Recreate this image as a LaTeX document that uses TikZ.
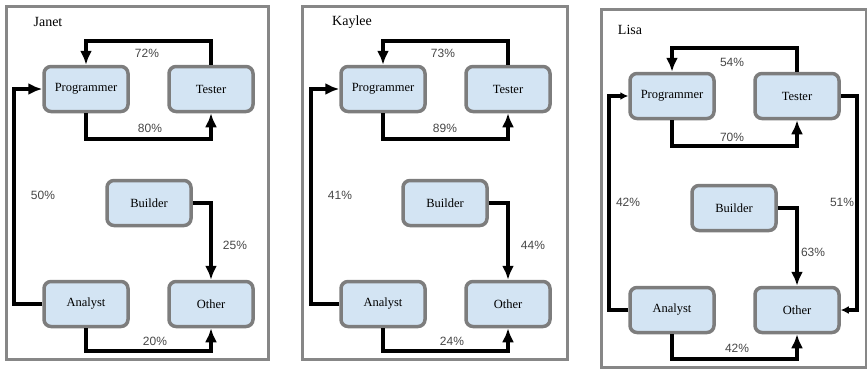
\documentclass[tikz,border=0pt]{standalone}
\usepackage{fontspec}
\setmainfont{Liberation Serif}
\newfontfamily\labfont{Liberation Sans}
\usetikzlibrary{arrows.meta}
\definecolor{boxfill}{RGB}{211,228,243}
\definecolor{boxline}{RGB}{125,125,125}
\definecolor{framecol}{RGB}{135,135,135}
\definecolor{labcol}{RGB}{70,70,70}
\tikzset{
  role/.style={draw=boxline, line width=3.5pt, fill=boxfill, rounded corners=7pt,
    minimum width=84pt, minimum height=45pt, inner sep=0pt,
    font=\fontsize{12.5}{14}\selectfont},
  flow/.style={draw=black, line width=4pt, -{Latex[length=14pt,width=12pt]}},
  flowsmall/.style={draw=black, line width=4pt, -{Latex[length=8pt,width=8pt]}},
  pct/.style={font=\labfont\fontsize{12}{14}\selectfont, text=labcol, inner sep=0pt},
  who/.style={font=\fontsize{14}{16}\selectfont, inner sep=0pt},
  frame/.style={draw=framecol, line width=3pt}
}
\begin{document}
\begin{tikzpicture}[x=1pt,y=-1pt]
\useasboundingbox (0,0) rectangle (867,370);
% ---------------- Janet ----------------
\draw[frame] (6,6) rectangle (268,359);
\node[who] (jname) at (48,22) {Janet};
\node[role] (jP) at (86,89) {Programmer};
\node[role] (jT) at (211,89) {Tester};
\node[role] (jB) at (149,203) {Builder};
\node[role] (jA) at (86,304) {Analyst};
\node[role] (jO) at (211,304) {Other};
\draw[flow] (jT.north) -- ++(0,-24) -| (jP.north);
\draw[flow] (jP.south) -- ++(0,26) -| (jT.south);
\draw[flow] (jA.west) -- ++(-28,0) |- (jP.west);
\draw[flow] (jB.east) -| (jO.north);
\draw[flow] (jA.south) -- ++(0,23) -| (jO.south);
\node[pct] (j72) at (147,53) {72\%};
\node[pct] (j80) at (150,128) {80\%};
\node[pct] (j50) at (43,195) {50\%};
\node[pct] (j25) at (235,245) {25\%};
\node[pct] (j20) at (155,341) {20\%};
% ---------------- Kaylee ----------------
\draw[frame] (302,6) rectangle (567,359);
\node[who] (kname) at (352,22) {Kaylee};
\node[role] (kP) at (383,89) {Programmer};
\node[role] (kT) at (508,89) {Tester};
\node[role] (kB) at (445,203) {Builder};
\node[role] (kA) at (383,304) {Analyst};
\node[role] (kO) at (508,304) {Other};
\draw[flow] (kT.north) -- ++(0,-24) -| (kP.north);
\draw[flow] (kP.south) -- ++(0,26) -| (kT.south);
\draw[flow] (kA.west) -- ++(-28,0) |- (kP.west);
\draw[flow] (kB.east) -| (kO.north);
\draw[flow] (kA.south) -- ++(0,23) -| (kO.south);
\node[pct] (k73) at (443,53) {73\%};
\node[pct] (k89) at (445,128) {89\%};
\node[pct] (k41) at (340,195) {41\%};
\node[pct] (k44) at (533,245) {44\%};
\node[pct] (k24) at (452,341) {24\%};
% ---------------- Lisa ----------------
\draw[frame] (601,9) rectangle (866,367);
\node[who] (lname) at (630,30) {Lisa};
\node[role] (lP) at (672,96) {Programmer};
\node[role] (lT) at (797,96) {Tester};
\node[role] (lB) at (734,208) {Builder};
\node[role] (lA) at (672,310) {Analyst};
\node[role] (lO) at (797,310) {Other};
\draw[flow] (lT.north) -- ++(0,-24) -| (lP.north);
\draw[flow] (lP.south) -- ++(0,26) -| (lT.south);
\draw[flowsmall] (lA.west) -- ++(-19,0) |- (lP.west);
\draw[flow] (lB.east) -| (lO.north);
\draw[flowsmall] (lT.east) -- ++(16,0) |- (lO.east);
\draw[flow] (lA.south) -- ++(0,25) -| (lO.south);
\node[pct] (l54) at (732,62) {54\%};
\node[pct] (l70) at (732,137) {70\%};
\node[pct] (l42a) at (628,202) {42\%};
\node[pct] (l63) at (813,252) {63\%};
\node[pct] (l51) at (842,202) {51\%};
\node[pct] (l42b) at (737,348) {42\%};
\end{tikzpicture}
\end{document}
